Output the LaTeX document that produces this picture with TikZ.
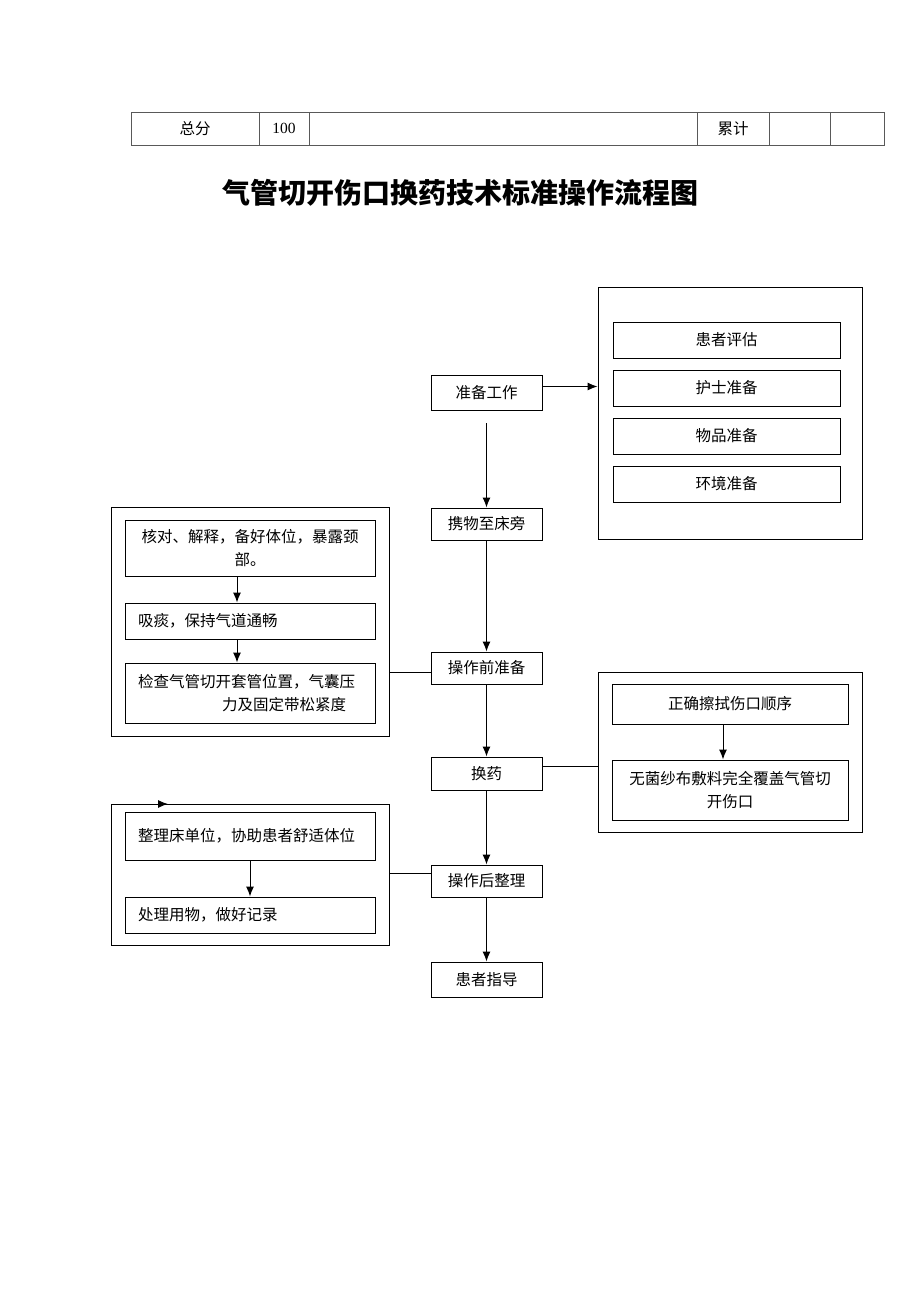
\documentclass[tikz,border=0pt]{standalone}
\usepackage{fontspec}
\setmainfont{Noto Sans CJK SC}
\newfontfamily\numfont{Liberation Serif}
\usetikzlibrary{arrows.meta}

\tikzset{
  every picture/.style={x=1pt, y=-1pt, line width=1pt, >={Latex[length=10pt,width=8pt]}},
  txt/.style={font=\fontsize{15.5}{23}\selectfont},
  mainbox/.style={txt, draw, rectangle, inner sep=0pt, minimum width=111pt, minimum height=32pt},
  subbox/.style={txt, draw, rectangle, inner xsep=13pt, inner ysep=0pt},
  groupbox/.style={draw, rectangle, inner sep=0pt},
}

\begin{document}
\begin{tikzpicture}
  \useasboundingbox (0,0) rectangle (920,1302);

  \draw[black!65] (131,112) rectangle (884,145);
  \foreach \cx in {259,309,697,769,830}
    \draw[black!65] (\cx,112) -- (\cx,145);
  \node[txt] (score) at (195,128.5) {总分};
  \node[txt] (full) at (284,128.5) {\numfont 100};
  \node[txt] (total) at (733,128.5) {累计};

  \node[font=\fontsize{28}{34}\selectfont\bfseries] (title) at (460,193) {气管切开伤口换药技术标准操作流程图};

  \node[mainbox, minimum height=35pt] (prep) at (486.5,392.5) {准备工作};
  \node[mainbox] (carry) at (486.5,524) {携物至床旁};
  \node[mainbox] (before) at (486.5,668) {操作前准备};
  \node[mainbox, minimum height=33pt] (change) at (486.5,773.5) {换药};
  \node[mainbox] (after) at (486.5,881) {操作后整理};
  \node[mainbox, minimum height=35pt] (guide) at (486.5,979.5) {患者指导};
  \coordinate (prepout) at (486.5,423);

  \node[groupbox, minimum width=264pt, minimum height=252pt] (grpprep) at (730,413) {};
  \node[mainbox, minimum width=227pt, minimum height=36pt] (assess) at (726.5,340) {患者评估};
  \node[mainbox, minimum width=227pt, minimum height=36pt] (nurse) at (726.5,388) {护士准备};
  \node[mainbox, minimum width=227pt, minimum height=36pt] (items) at (726.5,436) {物品准备};
  \node[mainbox, minimum width=227pt, minimum height=36pt] (room) at (726.5,484) {环境准备};

  \node[groupbox, minimum width=278pt, minimum height=229pt] (grpbefore) at (250,621.5) {};
  \node[subbox, text width=224pt, align=center, minimum height=56pt] (check) at (250,548) {核对、解释，备好体位，暴露颈\\部。};
  \node[subbox, text width=224pt, align=left, minimum height=36pt] (suction) at (250,621) {吸痰，保持气道通畅};
  \node[subbox, text width=224pt, align=left, minimum height=60pt] (inspect) at (250,693) {检查气管切开套管位置，气囊压\\\hspace*{84pt}力及固定带松紧度};

  \node[groupbox, minimum width=264pt, minimum height=160pt] (grpchange) at (730,752) {};
  \node[subbox, text width=210pt, align=center, minimum height=40pt] (order) at (730,704) {正确擦拭伤口顺序};
  \node[subbox, text width=210pt, align=center, minimum height=60pt] (cover) at (730,790) {无菌纱布敷料完全覆盖气管切\\开伤口};

  \node[groupbox, minimum width=278pt, minimum height=141pt] (grpafter) at (250,874.5) {};
  \node[subbox, text width=224pt, align=left, minimum height=48pt] (tidy) at (250,836) {整理床单位，协助患者舒适体位};
  \node[subbox, text width=224pt, align=left, minimum height=36pt] (dispose) at (250,915) {处理用物，做好记录};
  \coordinate (stubfrom) at (150,804);
  \coordinate (stubto) at (168,804);

  \path[->]
  (prepout) edge (carry)
  (carry) edge (before)
  (before) edge (change)
  (change) edge (after)
  (after) edge (guide)
  ([yshift=6pt]prep.east) edge ([yshift=6pt]prep.east -| grpprep.west)
  ([xshift=-13pt]check.south) edge ([xshift=-13pt]check.south |- suction.north)
  ([xshift=-13pt]suction.south) edge ([xshift=-13pt]suction.south |- inspect.north)
  ([xshift=-7pt]order.south) edge ([xshift=-7pt]order.south |- cover.north)
  (tidy) edge (dispose)
  (stubfrom) edge (stubto)
  ;
  \path
  ([yshift=-4pt]before.west) edge ([yshift=-4pt]before.west -| grpbefore.east)
  ([yshift=7pt]change.east) edge ([yshift=7pt]change.east -| grpchange.west)
  ([yshift=8pt]after.west) edge ([yshift=8pt]after.west -| grpafter.east)
  ;
\end{tikzpicture}
\end{document}
